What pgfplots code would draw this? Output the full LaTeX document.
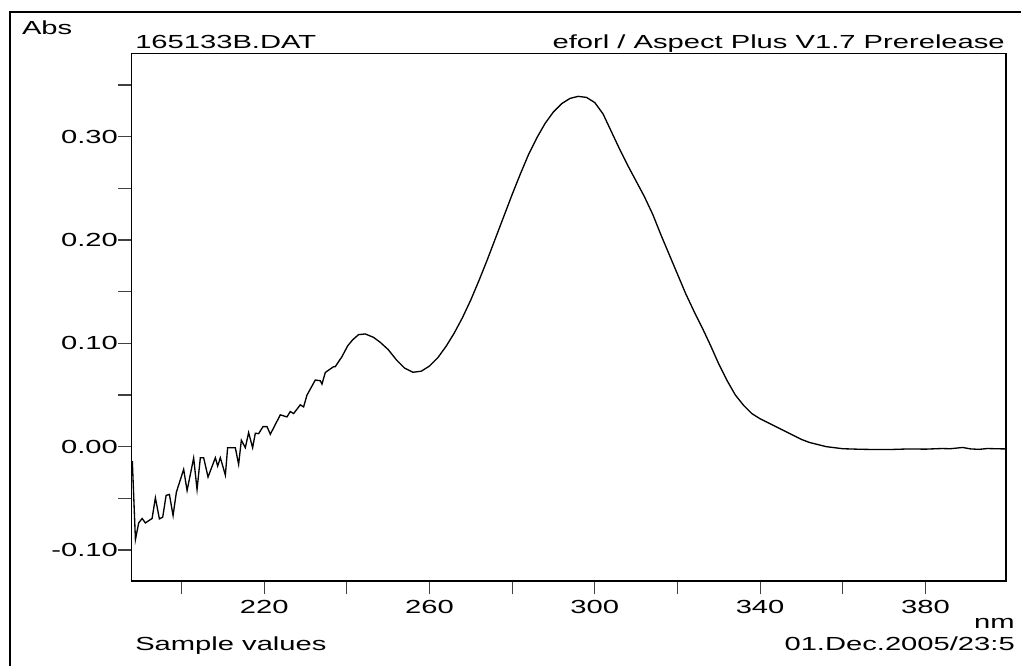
\documentclass[border=0pt]{standalone}
\usepackage{fontspec}
\setmainfont{Liberation Sans}[FakeStretch=1.54]
\usepackage{pgfplots}
\pgfplotsset{compat=1.18}
\begin{document}
\fontsize{14.2}{17}\selectfont
\begin{tikzpicture}
\draw[line width=1.1pt] (7.5pt,0pt) -- (7.5pt,490.5pt) -- (765.75pt,490.5pt);
\begin{axis}[
  at={(98.625pt,63.75pt)}, anchor=south west,
  scale only axis, width=655.875pt, height=395.625pt,
  xmin=187.9, xmax=399.5, ymin=-0.130, ymax=0.3805,
  axis line style={line width=1.1pt},
  tick pos=left, tick align=outside,
  xtick={220,260,300,340,380}, xticklabels={220,260,300,340,380},
  minor xtick={200,240,280,320,360,400},
  ytick={-0.1,0,0.1,0.2,0.3}, yticklabels={-0.10,0.00,0.10,0.20,0.30},
  minor ytick={-0.05,0.05,0.15,0.25,0.35},
  major tick length=10pt, minor tick length=10pt,
  tick style={line width=0.9pt, black!75},
  xticklabel style={inner sep=0pt, yshift=-4pt},
  yticklabel style={inner sep=0pt, xshift=0pt},
]
\addplot[line width=1pt, black] coordinates {
(188.1,-0.0139) (188.85,-0.0899) (189.64,-0.0738) (190.47,-0.0695) (191.26,-0.0738)
(192.88,-0.0695) (193.68,-0.0495) (194.65,-0.0699) (195.45,-0.0683) (196.27,-0.0472)
(197.07,-0.0462) (197.96,-0.0666) (198.76,-0.0440) (200.52,-0.0220) (201.35,-0.0424)
(202.94,-0.0110) (203.76,-0.0414) (204.56,-0.0107) (205.36,-0.0107) (206.42,-0.0294)
(208.19,-0.0107) (208.75,-0.0187) (209.40,-0.0107) (210.61,-0.0275) (211.16,-0.0010)
(213.02,-0.0010) (213.82,-0.0171) (214.48,0.0062) (215.44,-0.0010) (216.24,0.0136)
(217.21,-0.0010) (217.86,0.0130) (218.66,0.0126) (219.72,0.0194) (220.69,0.0194)
(221.49,0.0120) (223.90,0.0308) (225.52,0.0288) (226.32,0.0340) (227.12,0.0320)
(228.74,0.0405) (229.54,0.0385) (230.36,0.0499) (232.37,0.0645) (233.58,0.0638)
(233.99,0.0606) (234.79,0.0718) (236.79,0.0774) (237.20,0.0774) (238.82,0.0871)
(240.2,0.0975) (241.39,0.1033) (242.84,0.1084) (244.46,0.1091) (246.46,0.1058)
(248.08,0.1010) (250,0.094) (252,0.084) (254,0.076) (256,0.072) (258,0.073)
(260,0.078) (262,0.086) (264,0.097) (266,0.110) (268,0.125) (270,0.142)
(272,0.161) (274,0.181) (276,0.202) (278,0.223) (280,0.244) (282,0.264)
(284,0.283) (286,0.299) (288,0.313) (290,0.324) (292,0.332) (294,0.337)
(296,0.339) (298,0.338) (300,0.333) (302,0.322) (304,0.305) (306,0.288)
(308,0.272) (310,0.257) (312,0.242) (314,0.225) (316,0.205) (318,0.186)
(320,0.167) (322,0.148) (324,0.131) (326,0.115) (328,0.098) (330,0.080)
(332,0.064) (334,0.050) (336,0.040) (338,0.032) (340,0.027) (342,0.023)
(344,0.019) (346,0.015) (348,0.011) (350,0.007) (352,0.004) (354,0.002)
(356,0.000) (358,-0.001) (360,-0.002) (364,-0.0025) (368,-0.0028) (372,-0.0027)
(376,-0.0022) (380,-0.0024) (384,-0.0018) (386,-0.0020) (389,-0.0008) (391,-0.0022)
(393,-0.0026) (395,-0.0018) (397,-0.0020) (399.4,-0.0022)
};
\end{axis}
\node[anchor=base west, inner sep=0pt] at (16.3pt,473.5pt) {Abs};
\node[anchor=base west, inner sep=0pt] at (101.25pt,463.3pt) {165133B.DAT};
\node[anchor=base east, inner sep=0pt] at (753.75pt,463.3pt) {eforl / Aspect Plus V1.7 Prerelease};
\node[anchor=base east, inner sep=0pt] at (761.25pt,27.75pt) {nm};
\node[anchor=base west, inner sep=0pt] at (101.25pt,11.25pt) {Sample values};
\node[anchor=base east, inner sep=0pt] at (761.25pt,11.25pt) {01.Dec.2005/23:5};
\pgfresetboundingbox
\useasboundingbox (0pt,0pt) rectangle (770.25pt,499.5pt);
\end{tikzpicture}
\end{document}
